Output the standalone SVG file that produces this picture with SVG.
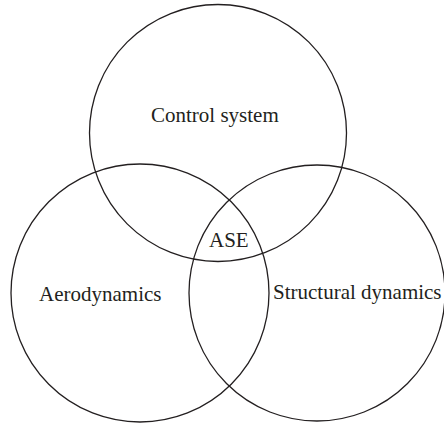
<svg xmlns="http://www.w3.org/2000/svg" width="444" height="426" viewBox="0 0 444 426">
<style>
.c{fill:none;stroke:#231f20;stroke-width:1.3}
.t{font-family:"Liberation Serif","Times New Roman",serif;font-size:21px;fill:#231f20}
</style>
<rect width="444" height="426" fill="#fff"/>
<g id="control"><circle class="c" cx="218" cy="133" r="128.5"/><text class="t" x="151" y="122">Control system</text></g>
<g id="aero"><circle class="c" cx="140" cy="293" r="129"/><text class="t" x="39" y="301">Aerodynamics</text></g>
<g id="struct"><circle class="c" cx="317" cy="293" r="128"/><text class="t" x="273" y="299">Structural dynamics</text></g>
<g id="ase"><text class="t" x="209" y="247">ASE</text></g>
<g id="connectors"/>
</svg>
